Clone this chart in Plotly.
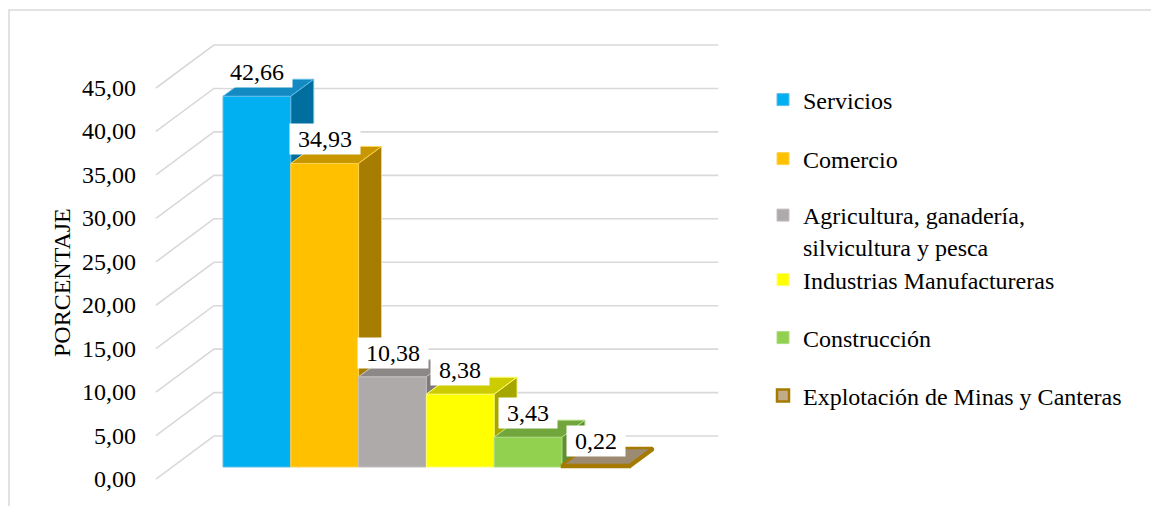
import plotly.graph_objects as go

# ---- data -------------------------------------------------------------
sectores = [
    "Servicios",
    "Comercio",
    "Agricultura, ganadería,<br>silvicultura y pesca",
    "Industrias Manufactureras",
    "Construcción",
    "Explotación de Minas y Canteras",
]
porcentajes = [42.66, 34.93, 10.38, 8.38, 3.43, 0.22]
ticks_y = [0, 5, 10, 15, 20, 25, 30, 35, 40, 45]
titulo_y = "PORCENTAJE"

# ---- colours (front, top, side, edge) ----------------------------------
c_front = ["#00B0F0", "#FFC000", "#AEAAAA", "#FFFF00", "#92D050", "#C2AB88"]
c_top = ["#148AC3", "#C89700", "#8C8888", "#CCCC00", "#72A63D", "#9C8B70"]
c_side = ["#006F9F", "#A67D00", "#7E7A7A", "#A6A600", "#5F8E34", "#8A7A60"]
c_edge = ["#62BDEB", "#FFD34F", "#C2BFBF", "#FFFF70", "#ACDC7E", "#A47A00"]
w_edge = [1, 1, 1, 1, 1, 2.5]

FONT = "Times New Roman, Liberation Serif, serif"
GRID = "#D9D9D9"

# ---- pseudo-3D geometry -----------------------------------------------
W, H = 1151, 506
PX_X = 67.8          # pixels per category slot
PX_V = 8.69          # pixels per percentage point
ORIGIN_PX = (223, 467)  # front-left corner of the first bar

DX, DY = 0.855, 4.948   # shift from the front edge of the floor to the back wall
D_BAR0, D_BAR1 = 0.28, 0.675  # depth span occupied by the bars
FLOOR_L, FLOOR_R = -0.75, len(porcentajes) + 0.69


def proj(x, v, d):
    """Oblique projection of a point at depth d onto the bar-front plane."""
    return x + (d - D_BAR0) * DX, v + (d - D_BAR0) * DY


def fmt(v):
    return f"{v:.2f}".replace(".", ",")


fig = go.Figure()

# front faces (real bars, also feed the legend)
for i, (name, v) in enumerate(zip(sectores, porcentajes)):
    fig.add_trace(go.Bar(
        x=[i + 0.5], y=[v], width=[1.0], name=name,
        marker=dict(color=c_front[i], line=dict(color=c_edge[i], width=w_edge[i])),
        legend="legend" if i == 0 else f"legend{i + 1}",
        hoverinfo="skip",
    ))

# top and visible side faces
for i, v in enumerate(porcentajes):
    x0, x1 = i, i + 1
    top = [proj(x0, v, D_BAR0), proj(x1, v, D_BAR0), proj(x1, v, D_BAR1), proj(x0, v, D_BAR1)]
    tx, ty = zip(*(top + [top[0]]))
    fig.add_trace(go.Scatter(
        x=tx, y=ty, mode="lines", fill="toself", fillcolor=c_top[i],
        line=dict(color=c_edge[i], width=w_edge[i]), showlegend=False, hoverinfo="skip",
    ))
    low = porcentajes[i + 1] if i + 1 < len(porcentajes) else 0
    low = min(low, v)
    side = [proj(x1, low, D_BAR0), proj(x1, v, D_BAR0), proj(x1, v, D_BAR1), proj(x1, low, D_BAR1)]
    sx, sy = zip(*(side + [side[0]]))
    fig.add_trace(go.Scatter(
        x=sx, y=sy, mode="lines", fill="toself", fillcolor=c_side[i],
        line=dict(color=c_edge[i], width=w_edge[i]), showlegend=False, hoverinfo="skip",
    ))

# gridlines: floor diagonal + back wall
shapes = []
for t in ticks_y:
    a = proj(FLOOR_L, t, 0.0)
    b = proj(FLOOR_L, t, 1.0)
    c = proj(FLOOR_R, t, 1.0)
    shapes.append(dict(
        type="path", xref="x", yref="y", layer="below",
        path=f"M{a[0]},{a[1]} L{b[0]},{b[1]} L{c[0]},{c[1]}",
        line=dict(color=GRID, width=1.6),
    ))
# chart frame
shapes.append(dict(
    type="rect", xref="paper", yref="paper", layer="below",
    x0=9 / W, x1=1.2, y0=-0.2, y1=1 - 10 / H,
    line=dict(color=GRID, width=1.5),
))

annotations = []
# tick labels
for t in ticks_y:
    a = proj(FLOOR_L, t, 0.0)
    annotations.append(dict(
        x=a[0], y=a[1], xref="x", yref="y", text=fmt(t), showarrow=False,
        xanchor="right", yanchor="middle", xshift=-18,
        font=dict(family=FONT, size=24, color="#000000"),
    ))
# data labels
for i, v in enumerate(porcentajes):
    annotations.append(dict(
        x=i + 0.5, y=v, xref="x", yref="y", text="&nbsp;" + fmt(v) + "&nbsp;",
        showarrow=False, xanchor="center", yanchor="middle", yshift=24,
        bgcolor="#FFFFFF", borderpad=2,
        font=dict(family=FONT, size=24, color="#000000"),
    ))
# axis title
annotations.append(dict(
    x=62 / W, y=1 - 283 / H, xref="paper", yref="paper", text=titulo_y,
    textangle=-90, showarrow=False, xanchor="center", yanchor="middle",
    font=dict(family=FONT, size=24, color="#000000"),
))

# one legend box per entry, stacked at a fixed pitch
legend_y = [100, 159, 218, 280, 338, 396]
legend_x = 763
layout_legends = {}
for i, py in enumerate(legend_y):
    key = "legend" if i == 0 else f"legend{i + 1}"
    two_lines = "<br>" in sectores[i]
    layout_legends[key] = dict(
        x=legend_x / W,
        y=1 - (py - 25 if two_lines else py) / H,
        xanchor="left", yanchor="top" if two_lines else "middle",
        bgcolor="rgba(0,0,0,0)", borderwidth=0, valign="top",
        font=dict(family=FONT, size=24, color="#000000"),
    )

x_range = [(0 - ORIGIN_PX[0]) / PX_X, (W - ORIGIN_PX[0]) / PX_X]
y_range = [(ORIGIN_PX[1] - H) / PX_V, ORIGIN_PX[1] / PX_V]

fig.update_layout(
    width=W, height=H,
    margin=dict(l=0, r=0, t=0, b=0),
    paper_bgcolor="#FFFFFF", plot_bgcolor="#FFFFFF",
    xaxis=dict(range=x_range, visible=False, fixedrange=True),
    yaxis=dict(range=y_range, visible=False, fixedrange=True),
    barmode="overlay",
    shapes=shapes,
    annotations=annotations,
    showlegend=True,
    **layout_legends,
)

fig.write_html("out.html", config={"displayModeBar": False})
